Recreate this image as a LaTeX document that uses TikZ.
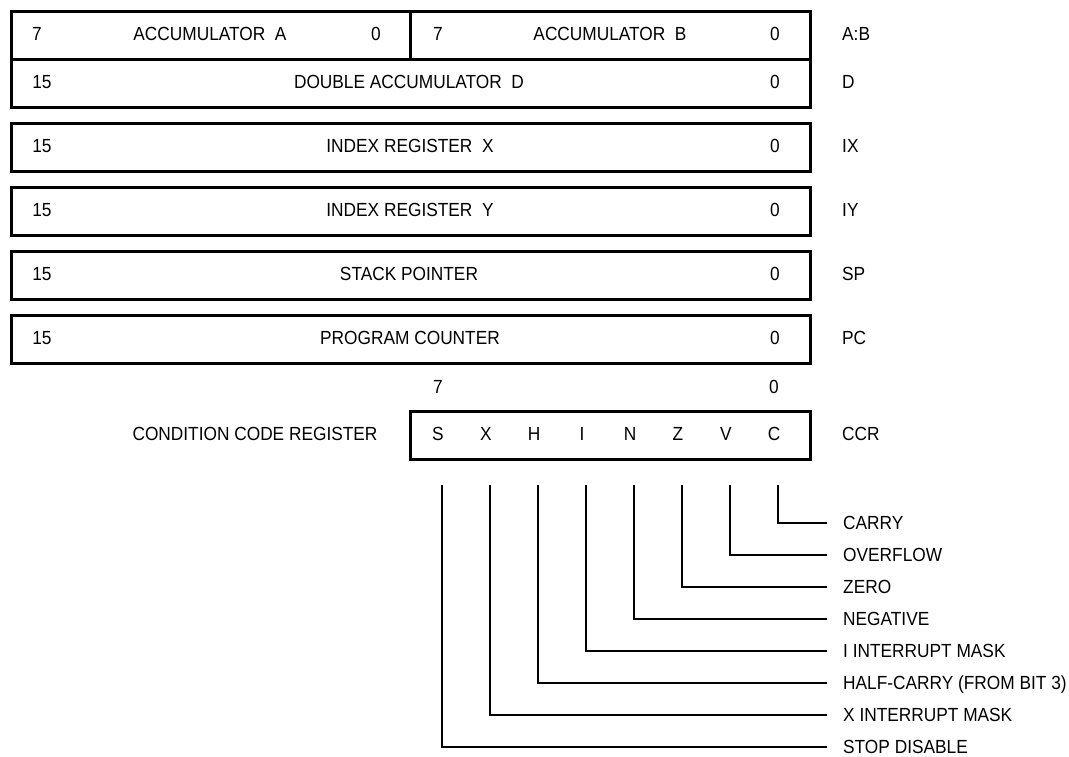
\documentclass[tikz,border=0pt]{standalone}
\usepackage{fontspec}
\setmainfont[FakeStretch=0.91]{Liberation Sans}
\usetikzlibrary{calc}
\begin{document}
\begin{tikzpicture}[x=1pt,y=-1pt,
  reg/.style={draw,line width=2.6pt,minimum height=48pt,inner sep=0pt,anchor=north west},
  txt/.style={font=\fontsize{19}{22}\selectfont,inner sep=0pt,text height=13.6pt,text depth=0pt},
  lbl/.style={txt,anchor=west},
  lead/.style={line width=1.8pt}]
\useasboundingbox (0,0) rectangle (1069,757);
% register boxes
\node[reg,minimum width=399pt] (accA) at (10,10) {};
\node[reg,minimum width=400pt] (accB) at (409,10) {};
\node[reg,minimum width=799pt] (accD) at (10,58) {};
\node[reg,minimum width=799pt] (ix) at (10,122) {};
\node[reg,minimum width=799pt] (iy) at (10,186) {};
\node[reg,minimum width=799pt] (sp) at (10,250) {};
\node[reg,minimum width=799pt] (pc) at (10,314) {};
\node[reg,minimum width=400pt] (ccr) at (409,410) {};
% row A:B
\node[txt] (a7) at (37,34) {7};
\node[txt] (aname) at (210,34) {ACCUMULATOR~~A};
\node[txt] (a0) at (376,34) {0};
\node[txt] (b7) at (438,34) {7};
\node[txt] (bname) at (610,34) {ACCUMULATOR~~B};
\node[txt] (b0) at (775,34) {0};
\node[lbl] (abl) at (842,34) {A:B};
% row D
\node[txt] (d15) at (42,82) {15};
\node[txt] (dname) at (409,82) {DOUBLE ACCUMULATOR~~D};
\node[txt] (d0) at (775,82) {0};
\node[lbl] (dl) at (842,82) {D};
% IX
\node[txt] (x15) at (42,146) {15};
\node[txt] (xname) at (410,146) {INDEX REGISTER~~X};
\node[txt] (x0) at (775,146) {0};
\node[lbl] (xl) at (842,146) {IX};
% IY
\node[txt] (y15) at (42,210) {15};
\node[txt] (yname) at (410,210) {INDEX REGISTER~~Y};
\node[txt] (y0) at (775,210) {0};
\node[lbl] (yl) at (842,210) {IY};
% SP
\node[txt] (s15) at (42,274) {15};
\node[txt] (sname) at (409,274) {STACK POINTER};
\node[txt] (s0) at (775,274) {0};
\node[lbl] (sl) at (842,274) {SP};
% PC
\node[txt] (p15) at (42,338) {15};
\node[txt] (pname) at (410,338) {PROGRAM COUNTER};
\node[txt] (p0) at (775,338) {0};
\node[lbl] (pl) at (842,338) {PC};
% CCR
\node[txt] (c7) at (438,387) {7};
\node[txt] (c0) at (774,387) {0};
\node[txt] (cname) at (255,434) {CONDITION CODE REGISTER};
\node[lbl] (cl) at (842,434) {CCR};
\foreach \bitname/\labtext [count=\i from 0] in {S/STOP DISABLE, X/X INTERRUPT MASK, H/HALF-CARRY (FROM BIT 3), I/I INTERRUPT MASK, N/NEGATIVE, Z/ZERO, V/OVERFLOW, C/CARRY} {
  \node[txt] (bit\bitname) at (438+48*\i,434) {\bitname};
  \node[lbl] (lab\bitname) at (843,747-32*\i) {\labtext};
  \draw[lead] ($(bit\bitname.center)+(4,51)$) |- ($(lab\bitname.west)+(-16,0)$);
}
\end{tikzpicture}
\end{document}
